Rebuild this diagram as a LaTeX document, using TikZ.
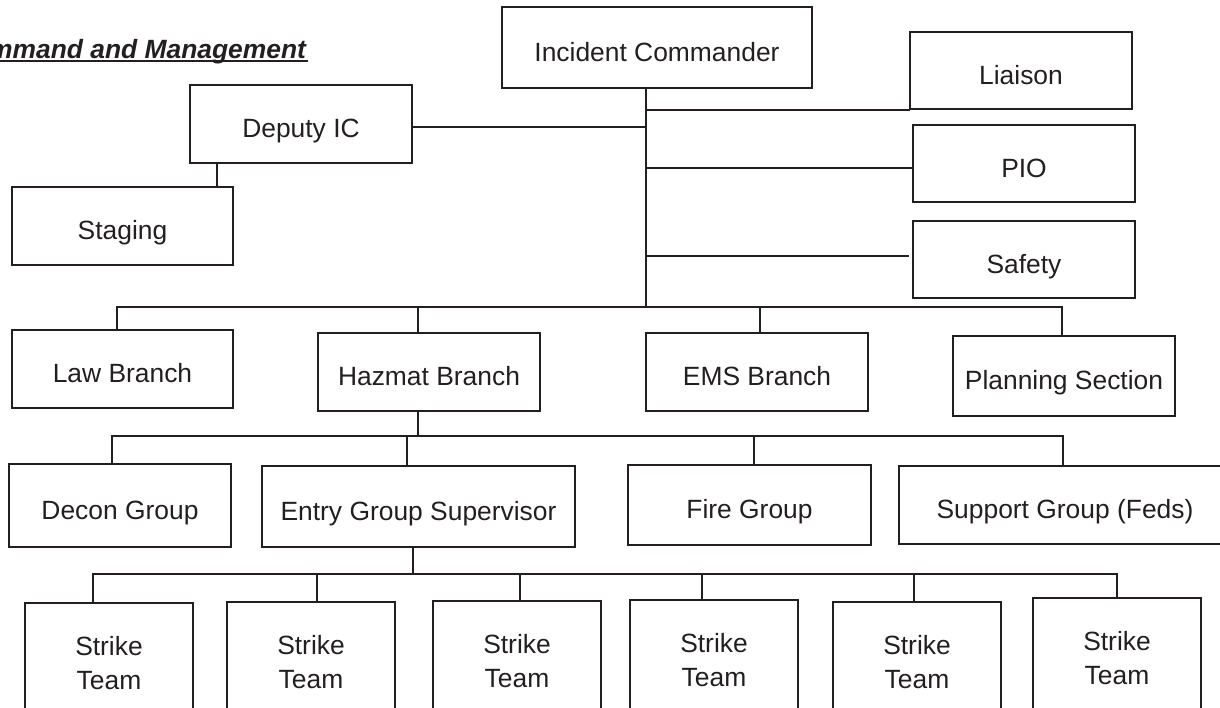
\documentclass[tikz,border=0pt]{standalone}
\usepackage{fontspec}
\setmainfont{Liberation Sans}
\usetikzlibrary{calc}
\definecolor{ink}{RGB}{35, 31, 32}

\begin{document}
\begin{tikzpicture}[
    x=0.5pt, y=-0.5pt, color=ink, line width=1pt, line cap=rect,
    box/.style={draw, font=\fontsize{13.2}{17}\selectfont, inner sep=0pt, text height=16.5pt, text depth=2.6pt, minimum width=111pt, minimum height=39pt},
    team/.style={draw, font=\fontsize{13.2}{17}\selectfont, align=center, inner sep=0pt, minimum width=84pt, minimum height=60pt, anchor=north},
    title/.style={font=\fontsize{13.2}{17}\selectfont\bfseries\itshape, inner sep=0pt, anchor=base east},
  ]
    \useasboundingbox (0,0) rectangle (1220,707);
    \clip (0,0) rectangle (1220,707);

    \node[title] (ttl) at (307,58) {Command and Management};
    \draw ([yshift=-1.3pt]ttl.base west) -- ([yshift=-1.3pt]ttl.base east);

    \node[box, minimum width=155pt, minimum height=40.5pt] (ic) at (657,47.5) {Incident Commander};
    \node[box, minimum height=38.5pt] (liaison) at (1021,70.5) {Liaison};
    \node[box, minimum height=38.5pt] (pio) at (1024,163.5) {PIO};
    \node[box, minimum height=38.5pt] (safety) at (1024,259.5) {Safety};
    \node[box] (deputy) at (301,124) {Deputy IC};
    \node[box, minimum width=110.5pt] (staging) at (122.5,226) {Staging};

    \node[box, minimum width=110.5pt] (law) at (122.5,369) {Law Branch};
    \node[box] (hazmat) at (429,372) {Hazmat Branch};
    \node[box] (ems) at (757,372) {EMS Branch};
    \node[box, minimum height=40pt] (planning) at (1064,376) {Planning Section};

    \node[box, minimum height=41.5pt] (decon) at (120,505.5) {Decon Group};
    \node[box, minimum width=156.5pt, minimum height=40.5pt] (entry) at (418.5,506.5) {Entry Group Supervisor};
    \node[box, minimum width=121.5pt, minimum height=40pt] (fire) at (749.5,505) {Fire Group};
    \node[box, minimum width=166pt] (support) at (1065,505) {Support Group (Feds)};

    \coordinate (hub) at (646,307);
    \coordinate (b2w) at (117,307);
    \coordinate (b2e) at (1062,307);
    \coordinate (b3w) at (112,436);
    \coordinate (b3e) at (1063,436);
    \coordinate (b4w) at (93,574);
    \coordinate (b4e) at (1117,574);

    \draw (ic.south -| hub) -- (hub);
    \draw (liaison.south west) -- (liaison.south west -| hub);
    \draw (pio.west) ++(0,4.5) coordinate (pj) -- (pj -| hub);
    \draw (safety.west) ++(-4,-3.5) coordinate (sj) -- (sj -| hub);
    \draw (deputy.east) ++(0,3) coordinate (dj) -- (dj -| hub);
    \draw (deputy.south west) ++(28,0) coordinate (dst) -- (dst |- staging.north);

    \draw (b2w) -- (b2e);
    \draw (b2w) -- (b2w |- law.north);
    \draw (hazmat.north) ++(-11,0) coordinate (hzt) -- (hzt |- hub);
    \draw (ems.north) ++(3,0) coordinate (emt) -- (emt |- hub);
    \draw (b2e) -- (b2e |- planning.north);

    \draw (hazmat.south) ++(-11,0) coordinate (hzb) -- (hzb |- b3w);
    \draw (b3w) -- (b3e);
    \draw (b3w) -- (b3w |- decon.north);
    \draw (entry.north) ++(-11.5,0) coordinate (ent) -- (ent |- b3w);
    \draw (fire.north) ++(4.5,0) coordinate (frt) -- (frt |- b3w);
    \draw (b3e) -- (b3e |- support.north);

    \draw (entry.south) ++(-5.5,0) coordinate (enb) -- (enb |- b4w);
    \draw (b4w) -- (b4e);
    \foreach \n/\cx/\ty/\dx in {1/109/602/-16, 2/311/601/6, 3/517/600/3, 4/714/599/-12, 5/917/601/-3, 6/1117/597/0} {
      \node[team] (st\n) at (\cx,\ty) {Strike\\Team};
      \draw (st\n.north) ++(\dx,0) coordinate (stt) -- (stt |- b4w);
    }

  \end{tikzpicture}
\end{document}
